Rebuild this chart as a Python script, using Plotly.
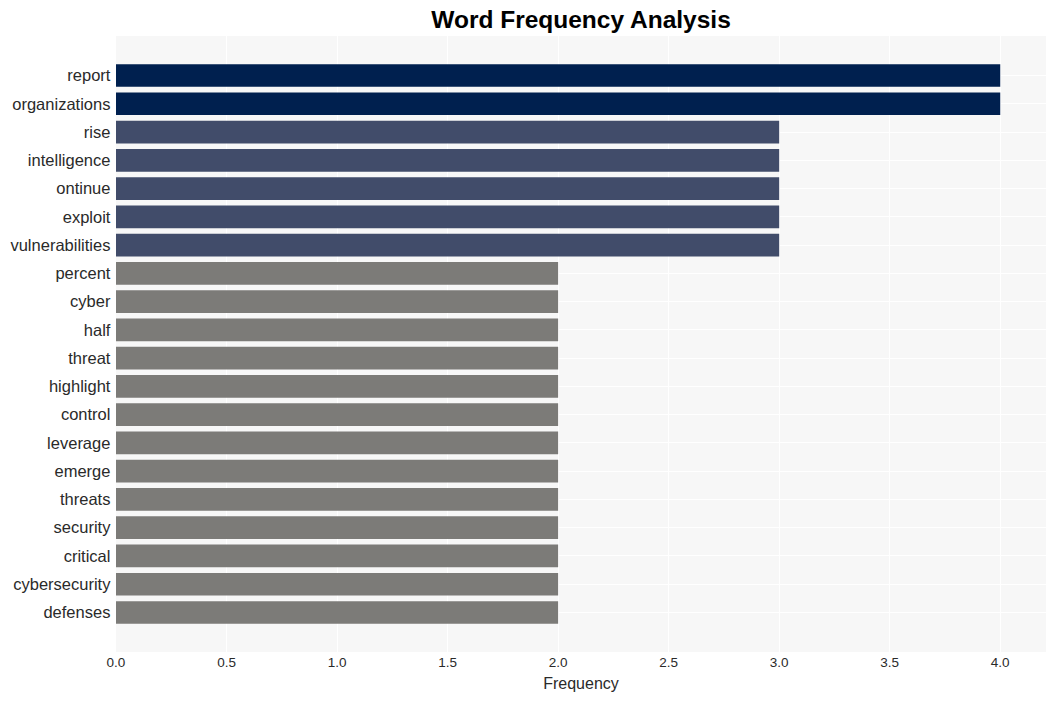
import plotly.graph_objects as go

words = ["report", "organizations", "rise", "intelligence", "ontinue", "exploit",
         "vulnerabilities", "percent", "cyber", "half", "threat", "highlight",
         "control", "leverage", "emerge", "threats", "security", "critical",
         "cybersecurity", "defenses"]
freqs = [4, 4, 3, 3, 3, 3, 3, 2, 2, 2, 2, 2, 2, 2, 2, 2, 2, 2, 2, 2]

color_map = {4: "#00204f", 3: "#414c6a", 2: "#7c7b78"}
colors = [color_map[f] for f in freqs]

fig = go.Figure(go.Bar(
    x=freqs, y=words, orientation="h",
    marker=dict(color=colors, line=dict(width=0)),
))

fig.update_layout(
    width=1055, height=701,
    margin=dict(l=116, r=9, t=36, b=49, autoexpand=False),
    paper_bgcolor="white",
    plot_bgcolor="#f7f7f7",
    bargap=0.2,
    showlegend=False,
    title=dict(text="<b>Word Frequency Analysis</b>", x=0.5, xref="paper",
               xanchor="center", y=0.972, yanchor="middle",
               font=dict(family="Arial, Liberation Sans", size=24.5, color="black")),
    font=dict(family="Arial, Liberation Sans", color="#2a2a2a"),
)
fig.update_xaxes(range=[0, 4.207], dtick=0.5, tickformat=".1f",
                 gridcolor="white", gridwidth=1, zeroline=False, automargin=False,
                 tickfont=dict(size=13.5), ticklabelstandoff=0,
                 title=dict(text="Frequency", font=dict(size=16), standoff=9))
fig.update_yaxes(type="category", categoryorder="array", categoryarray=words,
                 range=[19 + 1.4, -1.4], gridcolor="white", gridwidth=1,
                 automargin=False, tickfont=dict(size=16.5), ticksuffix=" ")

fig.write_html("out.html", config={"displayModeBar": False},
               post_script="document.body.style.margin='0';")
